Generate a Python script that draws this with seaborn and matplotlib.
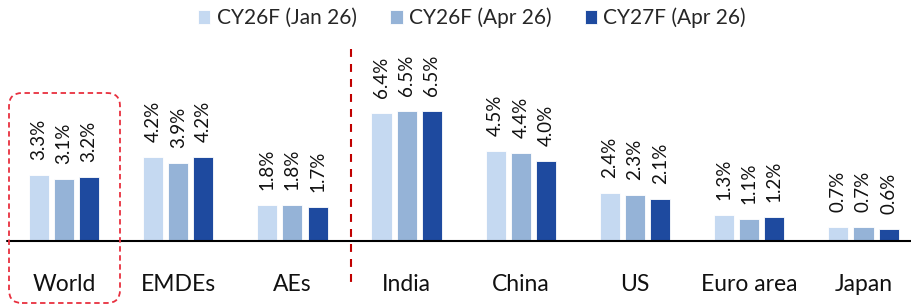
import pandas as pd
import matplotlib.pyplot as plt
import seaborn as sns
from matplotlib.patches import FancyBboxPatch
from matplotlib.lines import Line2D

# Data (GDP growth, %)
regions = ["World", "EMDEs", "AEs", "India", "China", "US", "Euro area", "Japan"]
series = ["CY26F (Jan 26)", "CY26F (Apr 26)", "CY27F (Apr 26)"]
cy26_jan = [3.3, 4.2, 1.8, 6.4, 4.5, 2.4, 1.3, 0.7]
cy26_apr = [3.1, 3.9, 1.8, 6.5, 4.4, 2.3, 1.1, 0.7]
cy27_apr = [3.2, 4.2, 1.7, 6.5, 4.0, 2.1, 1.2, 0.6]
colors = ["#C5D9F1", "#95B3D7", "#1E4A9F"]

df = pd.DataFrame({
    "region": regions * 3,
    "series": [s for s in series for _ in regions],
    "value": cy26_jan + cy26_apr + cy27_apr,
})

sns.set_theme(style="white")
plt.rcParams["font.family"] = ["Lato", "DejaVu Sans"]

W, H = 911, 304
fig = plt.figure(figsize=(W / 100, H / 100), dpi=100)
# axes placed in pixel terms: zero line at y=241, groups 114 px apart
ax = fig.add_axes([6.9 / W, (H - 241) / H, 913.7 / W, 211 / H])

sns.barplot(data=df, x="region", y="value", hue="series",
            order=regions, hue_order=series, palette=colors, saturation=1,
            width=0.66, gap=0.2, edgecolor="white", linewidth=0.6, ax=ax)

for cont in ax.containers:
    vals = cont.datavalues
    ax.bar_label(cont, labels=[f"{v:.1f}%" for v in vals], rotation=90,
                 padding=11, fontsize=13.5, color="#111111")

ax.set_xlim(-0.5, 7.5)
ax.set_ylim(0, 211 / 20)
ax.set_xlabel("")
ax.set_ylabel("")
ax.set_yticks([])
for s in ax.spines.values():
    s.set_visible(False)
ax.axhline(0, color="black", lw=1.5, clip_on=False)
ax.tick_params(axis="x", length=0, pad=24, labelsize=16.5, labelcolor="#111111")

# legend at top
handles, labels = ax.get_legend_handles_labels()
ax.get_legend().remove()
fig.legend(handles, labels, loc="center", bbox_to_anchor=(472 / W, 1 - 18 / H),
           ncol=3, frameon=False, fontsize=15, handlelength=0.6,
           handleheight=0.6, handletextpad=0.3, columnspacing=1.6)

# red dashed separator between AEs and India
fig.add_artist(Line2D([351 / W, 351 / W], [1 - 49 / H, 1 - 282 / H],
                      transform=fig.transFigure, color="#C00000", lw=1.5,
                      linestyle=(0, (3.8, 3.4))))

# dashed rounded box around World
fig.add_artist(FancyBboxPatch((0.09, 0.01), 1.11, 2.10,
                              boxstyle="round,pad=0,rounding_size=0.13",
                              transform=fig.dpi_scale_trans, fill=False,
                              edgecolor="#E8303F", lw=1.3,
                              linestyle=(0, (3, 2))))

fig.savefig("out.png", dpi=100)
